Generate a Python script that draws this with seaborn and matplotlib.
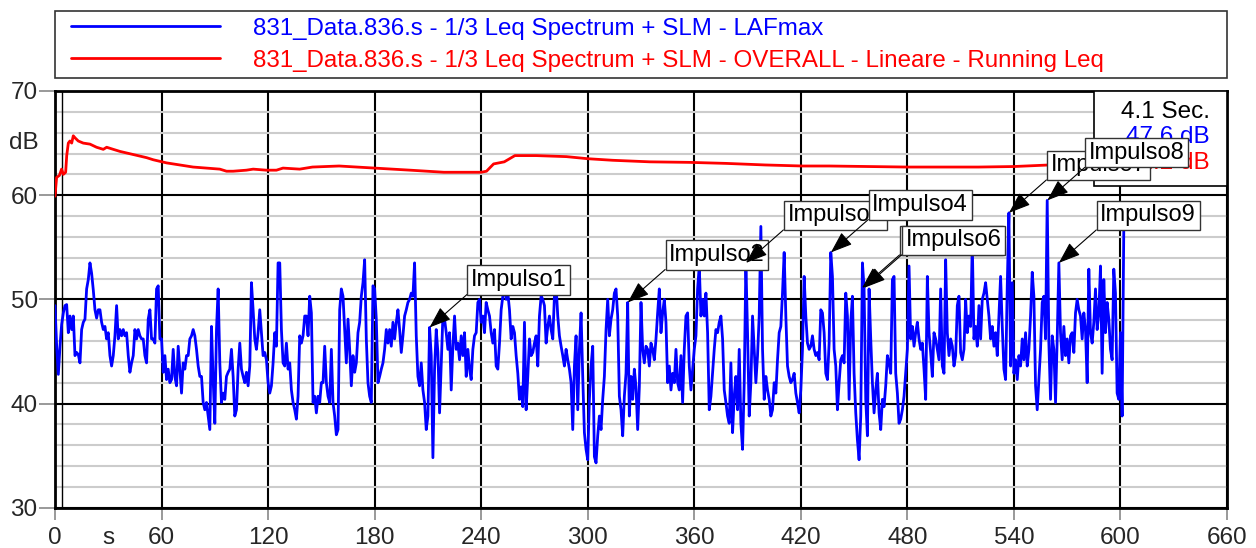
import numpy as np
import pandas as pd
import matplotlib
matplotlib.use("Agg")
import matplotlib.pyplot as plt
from matplotlib.patches import Rectangle
from matplotlib.ticker import MultipleLocator
from matplotlib.legend_handler import HandlerLine2D
import seaborn as sns

# ---------------------------------------------------------------- data
# LAFmax, one value every 0.9375 s from the start of the measurement (dB)
lafmax_step_s = 0.9375
lafmax_db = [
    49.4, 45.5, 42.8, 45.5, 47.6, 48.7, 49.4, 49.5, 46.8, 48.4,
    47.1, 48.4, 44.6, 44.9, 44.7, 43.9, 47.1, 47.8, 48.1, 51.0,
    51.9, 53.5, 52.5, 50.9, 49.0, 48.2, 49.0, 49.0, 47.8, 47.1,
    47.4, 46.2, 46.8, 44.6, 43.6, 44.6, 46.5, 49.4, 46.2, 47.1,
    46.5, 47.1, 46.5, 46.8, 44.6, 43.0, 43.9, 44.6, 47.1, 46.2,
    47.1, 46.5, 46.2, 46.2, 44.6, 43.9, 48.1, 49.0, 46.2, 46.2,
    45.8, 51.0, 51.3, 46.2, 46.2, 43.0, 44.6, 42.3, 43.3, 42.0,
    42.3, 45.2, 42.6, 41.7, 45.5, 43.3, 41.0, 43.9, 43.3, 44.6,
    44.6, 46.2, 46.5, 47.1, 46.5, 45.2, 43.6, 42.6, 42.6, 40.1,
    39.4, 40.1, 38.8, 37.5, 47.4, 42.3, 38.1, 47.1, 51.0, 43.9,
    40.1, 41.0, 40.4, 42.6, 43.0, 43.3, 45.2, 42.6, 38.8, 39.4,
    43.3, 45.8, 43.3, 42.6, 42.0, 43.0, 41.7, 43.6, 51.6, 49.0,
    46.2, 45.2, 46.8, 49.0, 46.8, 44.6, 44.9, 44.2, 42.0, 41.0,
    41.7, 43.9, 46.8, 45.5, 53.5, 53.5, 47.1, 43.9, 43.6, 45.8,
    43.3, 43.9, 41.3, 40.1, 39.4, 38.5, 40.7, 46.5, 45.8, 46.5,
    48.4, 48.4, 46.5, 50.3, 48.7, 40.1, 40.7, 39.1, 40.7, 40.1,
    42.0, 42.0, 45.5, 42.0, 40.7, 40.1, 45.2, 40.1, 38.8, 37.0,
    37.5, 49.0, 51.0, 50.3, 47.1, 43.9, 48.1, 45.2, 41.7, 44.6,
    43.0, 43.9, 46.8, 47.8, 50.3, 51.6, 53.8, 46.2, 42.0, 40.7,
    40.1, 51.3, 51.0, 48.1, 42.0, 42.6, 43.3, 43.9, 45.2, 47.1,
    45.8, 47.1, 45.5, 47.8, 46.2, 47.8, 49.0, 47.1, 44.9, 46.5,
    48.4, 49.0, 49.7, 50.0, 50.6, 50.3, 53.5, 46.5, 42.6, 41.7,
    43.9, 41.3, 40.1, 37.5, 38.8, 47.3, 44.6, 34.8, 43.3, 47.1,
    44.9,
    39.1, 43.6, 48.4, 48.1, 46.8, 45.2, 46.8, 41.3, 45.5, 48.4,
    45.2, 45.8, 44.2, 46.5, 44.6, 46.8, 42.6, 45.2, 43.3, 42.3,
    45.2, 46.5, 46.8, 49.7, 50.0, 47.8, 48.4, 46.8, 49.7, 49.0,
    48.4, 46.8, 45.8, 47.1, 43.6, 43.3, 45.8, 49.0, 50.3, 51.6,
    50.0, 50.6, 49.0, 46.2, 47.4, 46.8, 44.6, 42.9, 40.4, 41.6,
    39.7, 47.8, 39.4, 42.6, 46.2, 44.6, 44.9, 45.8, 46.5, 43.6,
    48.4, 50.3, 50.0, 49.4, 45.8, 47.4, 48.4, 47.1, 46.2, 50.3,
    51.3, 48.4, 46.5, 45.5, 44.6, 43.6, 45.2, 44.2, 43.3, 42.0,
    37.5, 43.6, 46.5, 39.4, 45.2, 48.7, 42.6, 37.2, 35.6, 34.6,
    40.4, 43.6, 45.5, 34.9, 34.3, 36.9, 38.8, 37.5, 40.4, 42.6,
    47.1, 50.0, 46.5, 48.1, 49.0, 50.6, 51.0, 48.4, 40.7, 39.4,
    36.9, 40.7, 42.9, 49.7, 38.8, 42.6, 40.4, 43.3, 41.6, 37.5,
    41.6, 49.7, 45.2, 43.9, 45.5, 45.2, 43.6, 45.8, 45.2, 44.2,
    46.2, 48.7, 51.0, 46.8, 48.7, 50.0, 47.8, 42.0, 43.6, 41.3,
    42.9, 42.0, 45.2, 42.0, 41.3, 44.6, 40.1, 45.2, 48.4, 48.7,
    43.6, 41.3, 43.3, 45.2, 46.5, 51.0, 53.2, 48.4, 50.0, 48.4,
    50.6, 46.8, 39.4, 40.7, 42.9, 45.2, 47.1, 46.8, 47.8, 48.4,
    46.2, 41.3, 40.1, 38.8, 38.1, 43.9, 37.2, 40.7, 42.6, 39.4,
    45.2, 38.1, 35.6, 42.0, 53.5, 46.8, 38.8, 42.0, 48.4, 45.2,
    42.0, 44.6, 48.4, 57.0, 45.2, 40.4, 42.6, 41.3, 40.4, 38.8,
    39.4, 42.0, 41.0, 44.2, 46.8, 47.4, 50.6, 54.5, 48.4, 43.6,
    42.6, 42.0, 42.3, 42.9, 41.0, 40.1, 39.1, 41.3, 45.2, 52.2,
    48.4, 45.8, 45.2, 45.5, 46.5, 45.2, 44.6, 44.9, 44.2, 49.0,
    48.7, 46.8, 42.9, 42.3, 45.8, 54.5, 52.2, 45.2, 43.6, 39.4,
    42.0,
    44.2, 44.6, 43.9, 50.6, 48.4, 40.4, 47.8, 50.3, 42.9, 39.1,
    36.5, 34.6, 38.8, 53.5, 51.1, 40.4, 36.9, 51.0, 46.2, 42.0,
    39.1, 41.3, 42.9, 39.1, 37.5, 40.4, 39.7, 41.7, 44.6, 43.9,
    42.9, 51.9, 52.2, 42.9, 41.0, 38.1, 38.5, 39.4, 40.7, 42.9,
    45.2, 53.2, 46.2, 47.4, 45.5, 46.8, 47.8, 46.2, 45.2, 45.8,
    43.3, 40.4, 52.2, 46.8, 44.9, 42.6, 46.8, 46.2, 45.2, 44.2,
    51.0, 43.6, 42.9, 53.8, 46.8, 44.6, 46.2, 45.5, 43.6, 44.6,
    49.4, 50.3, 44.9, 44.2, 45.2, 50.0, 46.8, 48.4, 47.4, 55.4,
    46.2, 47.4, 45.5, 49.4, 46.2, 50.0, 50.6, 51.6, 50.0, 48.4,
    46.2, 47.4, 45.5, 46.8, 44.6, 48.4, 52.2, 47.4, 43.3, 42.3,
    51.3, 58.3, 43.6, 51.6, 42.9, 44.2, 42.3, 44.6, 43.6, 46.2,
    44.2, 46.8, 43.6, 45.2, 48.4, 52.6, 50.3, 41.7, 39.4, 42.3,
    45.2, 49.7, 50.3, 46.2, 59.5, 45.8, 40.4, 46.5, 45.2, 40.1,
    46.2, 53.5, 46.8, 44.2, 47.4, 44.6, 46.2, 43.9, 46.5, 46.8,
    44.9, 48.7, 50.0, 49.0, 48.4, 46.2, 48.7, 47.1, 42.0, 52.9,
    46.8, 45.8, 47.8, 51.0, 47.1, 48.7, 53.2, 42.9, 51.9, 46.8,
    49.7, 48.1, 45.2, 44.2, 52.9, 50.6, 41.0, 40.4, 46.8, 38.8,
    56.7,
]

# OVERALL linear running Leq (dB)
leq_time_s = [0.0, 0.9, 2.5, 3.7, 4.7, 6.0, 6.6, 7.5, 8.4, 9.4,
              10.3, 11.3, 13.1, 15.9, 19.7, 23.4, 27.2, 29.1, 32.8, 36.6,
              44.1, 51.6, 55.3, 62.8, 70.3, 77.8, 85.3, 92.8, 96.6, 100.3,
              107.8, 111.6, 119.0, 124.7, 128.4, 137.8, 145.0, 160.0, 180.0, 200.0,
              219.0, 240.0, 243.0, 247.0, 253.0, 259.0, 271.0, 288.0, 300.0, 314.0,
              335.0, 357.0, 378.0, 400.0, 421.0, 436.0, 480.0, 520.0, 540.0, 560.0,
              580.0, 601.9]
leq_db = [59.9, 61.7, 61.9, 62.5, 62.0, 62.2, 63.8, 65.0, 65.2, 65.0,
          65.7, 65.5, 65.2, 65.0, 64.9, 64.6, 64.4, 64.6, 64.4, 64.2,
          63.9, 63.6, 63.4, 63.1, 62.9, 62.7, 62.6, 62.5, 62.3, 62.3,
          62.4, 62.5, 62.4, 62.4, 62.6, 62.5, 62.7, 62.8, 62.6, 62.4,
          62.2, 62.2, 62.3, 63.0, 63.2, 63.8, 63.8, 63.7, 63.5, 63.35,
          63.2, 63.15, 63.05, 62.9, 62.8, 62.8, 62.7, 62.7, 62.75, 62.9,
          62.9, 62.9]

# marked impulsive events
impulse_names = ["Impulso1", "Impulso2", "Impulso3", "Impulso4", "Impulso5",
                 "Impulso6", "Impulso7", "Impulso8", "Impulso9"]
impulse_time_s = [210.9, 322.5, 389.1, 436.9, 454.5, 455.6, 537.2, 558.8, 565.3]
impulse_db = [47.3, 49.7, 53.5, 54.5, 51.1, 51.1, 58.3, 59.5, 53.5]

# cursor readout
cursor_time_s = 4.1
cursor_lafmax_db = 47.6
cursor_leq_db = 62.2

series_labels = ["831_Data.836.s - 1/3 Leq Spectrum + SLM - LAFmax",
                 "831_Data.836.s - 1/3 Leq Spectrum + SLM - OVERALL - Lineare - Running Leq"]
x_ticks = [0, 60, 120, 180, 240, 300, 360, 420, 480, 540, 600, 660]
y_ticks = [30, 40, 50, 60, 70]

BLUE = "#0000ff"
RED = "#ff0000"

# ---------------------------------------------------------------- style
sns.set_style("white")
plt.rcParams["font.family"] = ["Liberation Sans", "DejaVu Sans"]

lafmax = pd.DataFrame({"time": np.arange(len(lafmax_db)) * lafmax_step_s,
                       "level": lafmax_db})
leq = pd.DataFrame({"time": leq_time_s, "level": leq_db})

fig = plt.figure(figsize=(12.56, 5.48), dpi=100)
ax = fig.add_axes([55 / 1256, 40.3 / 548, 1172 / 1256, 416.7 / 548])

sns.lineplot(data=lafmax, x="time", y="level", ax=ax, color=BLUE, lw=2.0,
             estimator=None, sort=False, label=series_labels[0], zorder=3)
sns.lineplot(data=leq, x="time", y="level", ax=ax, color=RED, lw=2.0,
             estimator=None, sort=False, label=series_labels[1], zorder=3)

ax.set_xlim(0, 660)
ax.set_ylim(30, 70)
ax.set_xticks(x_ticks)
ax.set_yticks(y_ticks)
ax.yaxis.set_minor_locator(MultipleLocator(2))
ax.set_axisbelow(True)
ax.grid(which="major", color="black", lw=1.5)
ax.grid(which="minor", axis="y", color="#cccccc", lw=1.5)
ax.set_xlabel("")
ax.set_ylabel("")
for sp in ax.spines.values():
    sp.set_color("black")
    sp.set_linewidth(2)

TICK_FS = 17.5
LABEL_FS = 17
ax.tick_params(axis="y", which="major", direction="out", length=11.5, width=1.2,
               color="#888888", labelsize=TICK_FS, pad=1, left=True)
ax.tick_params(axis="x", which="major", direction="out", length=8.5, width=1.2,
               color="#888888", labelsize=TICK_FS, pad=5.2, bottom=True)
ax.tick_params(which="minor", length=0)

# axis unit labels
ax.text(-0.027, 65, "dB", transform=ax.get_yaxis_transform(), ha="center",
        va="center", fontsize=TICK_FS)
ax.annotate("s", xy=(30, 0), xycoords=ax.get_xaxis_transform(),
            xytext=(0, -13.7), textcoords="offset points", ha="center",
            va="top", fontsize=TICK_FS)

# cursor
ax.axvline(cursor_time_s, color="black", lw=1.0, zorder=2.5)
ax.add_patch(Rectangle((0.8865, 0.772), 0.1135, 0.228, transform=ax.transAxes,
                       facecolor="white", edgecolor="black", lw=1.2, zorder=4))
ax.text(0.9855, 0.950, f"{cursor_time_s:.1f} Sec.", transform=ax.transAxes,
        ha="right", va="center", fontsize=TICK_FS, color="black", zorder=5)
ax.text(0.9855, 0.889, f"{cursor_lafmax_db:.1f} dB", transform=ax.transAxes,
        ha="right", va="center", fontsize=TICK_FS, color=BLUE, zorder=5)
ax.text(0.9855, 0.827, f"{cursor_leq_db:.1f} dB", transform=ax.transAxes,
        ha="right", va="center", fontsize=TICK_FS, color=RED, zorder=5)

# impulse markers
for i, (name, t, v) in enumerate(zip(impulse_names, impulse_time_s, impulse_db)):
    ax.annotate(name, xy=(t, v), xytext=(41.5, 36.5), textcoords="offset pixels",
                ha="left", va="bottom", fontsize=LABEL_FS, color="black",
                zorder=6 + i,
                bbox=dict(boxstyle="square,pad=0.15", fc="white", ec="#333333", lw=1),
                arrowprops=dict(arrowstyle="-|>,head_length=0.9,head_width=0.33",
                                color="black", lw=0.8, relpos=(0, 0),
                                shrinkA=0, shrinkB=0, mutation_scale=15))

# legend box above the plot
LEG_FS = 17.4
leg = ax.legend(loc="lower left",
                bbox_to_anchor=(55 / 1256, 1 - 78 / 548, 1172 / 1256, 66 / 548),
                bbox_transform=fig.transFigure, mode="expand", borderaxespad=0,
                frameon=True, fancybox=False, edgecolor="black",
                fontsize=LEG_FS, handlelength=6.58, handletextpad=1.36,
                borderpad=0.26, labelspacing=0.42, labelcolor="linecolor",
                handler_map={plt.Line2D: HandlerLine2D(xpad=0.42)})
leg.get_frame().set_linewidth(1.2)
for h in leg.get_lines():
    h.set_linewidth(2)

fig.savefig("out.png", dpi=100)
